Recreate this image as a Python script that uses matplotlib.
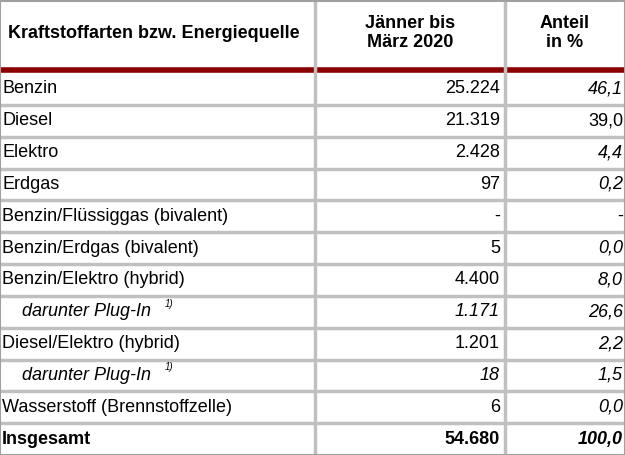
import matplotlib.pyplot as plt

plt.rcParams['font.family'] = 'Liberation Sans'

categories = ['Benzin', 'Diesel', 'Elektro', 'Erdgas', 'Benzin/Flüssiggas (bivalent)',
              'Benzin/Erdgas (bivalent)', 'Benzin/Elektro (hybrid)', 'darunter Plug-In',
              'Diesel/Elektro (hybrid)', 'darunter Plug-In', 'Wasserstoff (Brennstoffzelle)',
              'Insgesamt']
values = ['25.224', '21.319', '2.428', '97', '-', '5', '4.400', '1.171', '1.201', '18', '6', '54.680']
shares = ['46,1', '39,0', '4,4', '0,2', '-', '0,0', '8,0', '26,6', '2,2', '1,5', '0,0', '100,0']
sub_rows = [7, 9]
share_upright = [1, 4]
headers = ['Kraftstoffarten bzw. Energiequelle', 'Jänner bis\nMärz 2020', 'Anteil\nin %']

W, H = 625, 455
fig = plt.figure(figsize=(W / 100, H / 100), dpi=100)
ax = fig.add_axes([0, 0, 1, 1])
ax.set_xlim(0, W)
ax.set_ylim(H, 0)
ax.axis('off')

grid = '#c0c0c0'
col1, col2 = 315, 505
top_rows = 73
rh = (H - top_rows) / len(categories)
fs = 13

# header
ax.text(8, 33, headers[0], fontsize=fs, fontweight='bold', va='center', ha='left')
ax.text((col1 + col2) / 2, 33, headers[1], fontsize=fs, fontweight='bold', va='center', ha='center', linespacing=1.2)
ax.text((col2 + W) / 2, 33, headers[2], fontsize=fs, fontweight='bold', va='center', ha='center', linespacing=1.2)
ax.plot([0, W], [70, 70], color='#8b0000', lw=4, solid_capstyle='butt')

for i, (cat, val, sh) in enumerate(zip(categories, values, shares)):
    yc = top_rows + (i + 0.5) * rh
    last = i == len(categories) - 1
    sub = i in sub_rows
    weight = 'bold' if last else 'normal'
    if sub:
        ax.text(22, yc, cat, fontsize=fs, style='italic', va='center', ha='left')
        ax.text(165, yc - 8, '1)', fontsize=7, style='italic', va='center', ha='left')
    else:
        ax.text(2, yc, cat, fontsize=fs, fontweight=weight, va='center', ha='left')
    ax.text(col2 - 5, yc, val, fontsize=fs, fontweight=weight,
            style='italic' if sub else 'normal', va='center', ha='right')
    ax.text(W - 2, yc, sh, fontsize=fs, fontweight=weight,
            style='normal' if i in share_upright else 'italic', va='center', ha='right')
    if i > 0:
        y = top_rows + i * rh
        ax.plot([0, W], [y, y], color=grid, lw=2.5, solid_capstyle='butt')

for x in (col1, col2):
    ax.plot([x, x], [0, H], color=grid, lw=2.5, solid_capstyle='butt')
ax.plot([0, W, W, 0, 0], [0.5, 0.5, H - 0.5, H - 0.5, 0.5], color='#a0a0a0', lw=1.5)

fig.savefig('out.png', dpi=100)
